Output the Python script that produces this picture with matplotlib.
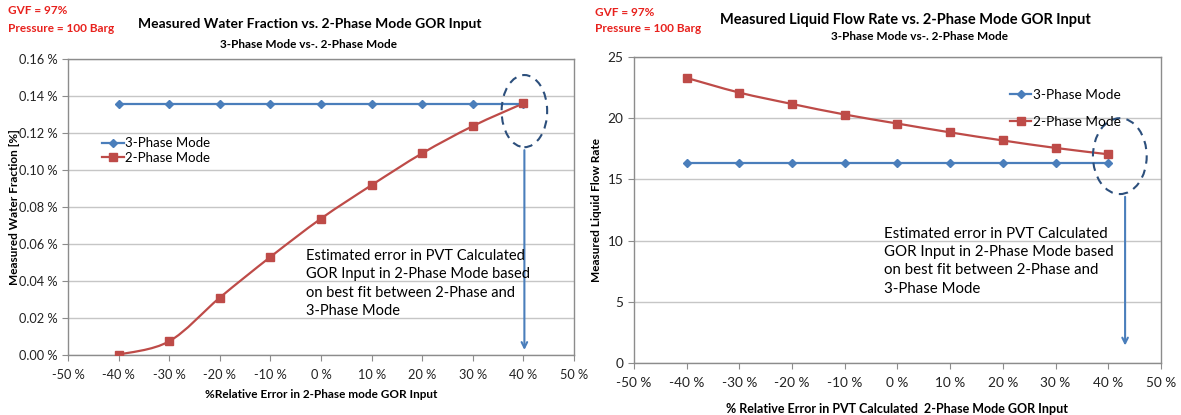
import matplotlib
matplotlib.use('Agg')
import matplotlib.pyplot as plt
import numpy as np
from matplotlib.path import Path
from matplotlib.patches import PathPatch, Ellipse
from matplotlib.lines import Line2D

plt.rcParams['font.family'] = ['Lato', 'DejaVu Sans']

# data
gor_error = [-40, -30, -20, -10, 0, 10, 20, 30, 40]
wf_3phase = [0.1357] * 9
wf_2phase = [0.0002, 0.0074, 0.0310, 0.0530, 0.0737, 0.0918, 0.1090, 0.1237, 0.1360]
lf_3phase = [16.3] * 9
lf_2phase = [23.29, 22.09, 21.16, 20.30, 19.56, 18.84, 18.18, 17.57, 17.05]

x_ticks = list(range(-50, 51, 10))
wf_ticks = [0.0, 0.02, 0.04, 0.06, 0.08, 0.10, 0.12, 0.14, 0.16]
lf_ticks = [0, 5, 10, 15, 20, 25]

BLUE = '#4A7EBB'
RED = '#BE4B48'
DARK = '#2C4F7C'
GRID = '#C6C6C6'
NOTE = ("Estimated error in PVT Calculated\nGOR Input in 2-Phase Mode based\n"
        "on best fit between 2-Phase and\n3-Phase Mode")


def smooth_line(ax, x, y, color):
    # excel style smoothed line: catmull-rom through the points as bezier segments
    x = np.asarray(x, float)
    y = np.asarray(y, float)
    n = len(x)
    verts = [(x[0], y[0])]
    codes = [Path.MOVETO]
    for i in range(n - 1):
        i0 = max(i - 1, 0)
        i3 = min(i + 2, n - 1)
        c1 = (x[i] + (x[i + 1] - x[i0]) / 6, y[i] + (y[i + 1] - y[i0]) / 6)
        c2 = (x[i + 1] - (x[i3] - x[i]) / 6, y[i + 1] - (y[i3] - y[i]) / 6)
        verts += [c1, c2, (x[i + 1], y[i + 1])]
        codes += [Path.CURVE4] * 3
    ax.add_patch(PathPatch(Path(verts, codes), fill=False, edgecolor=color, lw=1.6, zorder=3))


def style_axes(ax, size):
    for s in ax.spines.values():
        s.set_color('#8C8C8C')
        s.set_linewidth(1.0)
    ax.tick_params(axis='both', direction='out', length=4, color='#8C8C8C',
                   labelsize=size, labelcolor='#222222')
    ax.grid(axis='y', color=GRID, lw=1.0)
    ax.set_axisbelow(True)


def red_notes(x, y1, y2):
    fig.text(x / 1181, 1 - y1 / 415, 'GVF = 97%', color='#E8211D', fontsize=8.5,
             fontweight='bold', va='center')
    fig.text(x / 1181, 1 - y2 / 415, 'Pressure = 100 Barg', color='#E8211D', fontsize=8.5,
             fontweight='bold', va='center')


fig = plt.figure(figsize=(11.81, 4.15), dpi=100)

# ---------- left chart: water fraction ----------
ax1 = fig.add_axes([0.0576, 0.1446, 0.4284, 0.7134])
style_axes(ax1, 9.2)
ax1.plot(gor_error, wf_3phase, color=BLUE, lw=1.6, marker='D', ms=3.8, zorder=4)
smooth_line(ax1, gor_error, wf_2phase, RED)
ax1.plot(gor_error, wf_2phase, color=RED, ls='none', marker='s', ms=5.5, zorder=4)
ax1.set_xlim(-50, 50)
ax1.set_ylim(0, 0.16)
ax1.set_xticks(x_ticks)
ax1.set_xticklabels(['%d %%' % v for v in x_ticks])
ax1.set_yticks(wf_ticks)
ax1.set_yticklabels(['%.2f %%' % v for v in wf_ticks])
ax1.tick_params(axis='x', pad=6)
ax1.set_xlabel('%Relative Error in 2-Phase mode GOR Input', fontsize=8.5,
               fontweight='bold', labelpad=6)
ax1.set_ylabel('Measured Water Fraction [%]', fontsize=8.5, fontweight='bold')
ax1.yaxis.set_label_coords(-0.095, 0.5)

handles = [Line2D([], [], color=BLUE, lw=1.6, marker='D', ms=3.8),
           Line2D([], [], color=RED, lw=1.6, marker='s', ms=5.5)]
ax1.legend(handles, ['3-Phase Mode', '2-Phase Mode'], loc='upper left',
           bbox_to_anchor=(0.055, 0.757), frameon=False, fontsize=9.5,
           handlelength=1.6, handletextpad=0.1, labelspacing=0.2, borderpad=0)

ax1.add_patch(Ellipse((40.2, 0.1318), 9.0, 0.039, fill=False, edgecolor=DARK,
                      lw=1.5, ls=(0, (4, 3)), zorder=5))
ax1.annotate('', xy=(40.2, 0.0012), xytext=(40.2, 0.1122),
             arrowprops=dict(arrowstyle='->', color=BLUE, lw=1.5))
ax1.text(-3.0, 0.0575, NOTE, fontsize=10.5, va='top', ha='left', linespacing=1.42)

fig.text(310 / 1181, 1 - 24 / 415, 'Measured Water Fraction vs. 2-Phase Mode GOR Input',
         ha='center', va='center', fontsize=10, fontweight='bold')
fig.text(309 / 1181, 1 - 44 / 415, '3-Phase Mode vs-. 2-Phase Mode', ha='center', va='center',
         fontsize=8.5, fontweight='bold')
red_notes(8, 11, 29)

# ---------- right chart: liquid flow rate ----------
ax2 = fig.add_axes([0.5368, 0.1253, 0.4462, 0.7374])
style_axes(ax2, 9.8)
ax2.plot(gor_error, lf_3phase, color=BLUE, lw=1.6, marker='D', ms=3.8, zorder=4)
smooth_line(ax2, gor_error, lf_2phase, RED)
ax2.plot(gor_error, lf_2phase, color=RED, ls='none', marker='s', ms=5.5, zorder=4)
ax2.set_xlim(-50, 50)
ax2.set_ylim(0, 25)
ax2.set_xticks(x_ticks)
ax2.set_xticklabels(['%d %%' % v for v in x_ticks])
ax2.set_yticks(lf_ticks)
ax2.tick_params(axis='x', pad=6)
ax2.set_xlabel('% Relative Error in PVT Calculated  2-Phase Mode GOR Input', fontsize=9,
               fontweight='bold', labelpad=10)
ax2.set_ylabel('Measured Liquid Flow Rate', fontsize=8.5, fontweight='bold')
ax2.yaxis.set_label_coords(-0.06, 0.5)

ax2.legend(handles, ['3-Phase Mode', '2-Phase Mode'], loc='upper left',
           bbox_to_anchor=(0.70, 0.918), frameon=False, fontsize=9.8,
           handlelength=1.6, handletextpad=0.1, labelspacing=1.1, borderpad=0)

ax2.add_patch(Ellipse((42.2, 16.9), 10.2, 6.2, fill=False, edgecolor=DARK,
                      lw=1.5, ls=(0, (4, 3)), zorder=5))
ax2.annotate('', xy=(43.2, 1.2), xytext=(43.2, 13.8),
             arrowprops=dict(arrowstyle='->', color=BLUE, lw=1.5))
ax2.text(-2.6, 11.1, NOTE, fontsize=10.8, va='top', ha='left', linespacing=1.38)

fig.text(905 / 1181, 1 - 20 / 415, 'Measured Liquid Flow Rate vs. 2-Phase Mode GOR Input',
         ha='center', va='center', fontsize=10.5, fontweight='bold')
fig.text(919 / 1181, 1 - 37 / 415, '3-Phase Mode vs-. 2-Phase Mode', ha='center', va='center',
         fontsize=8.5, fontweight='bold')
red_notes(595, 13, 29)

fig.savefig('out.png', dpi=100)
